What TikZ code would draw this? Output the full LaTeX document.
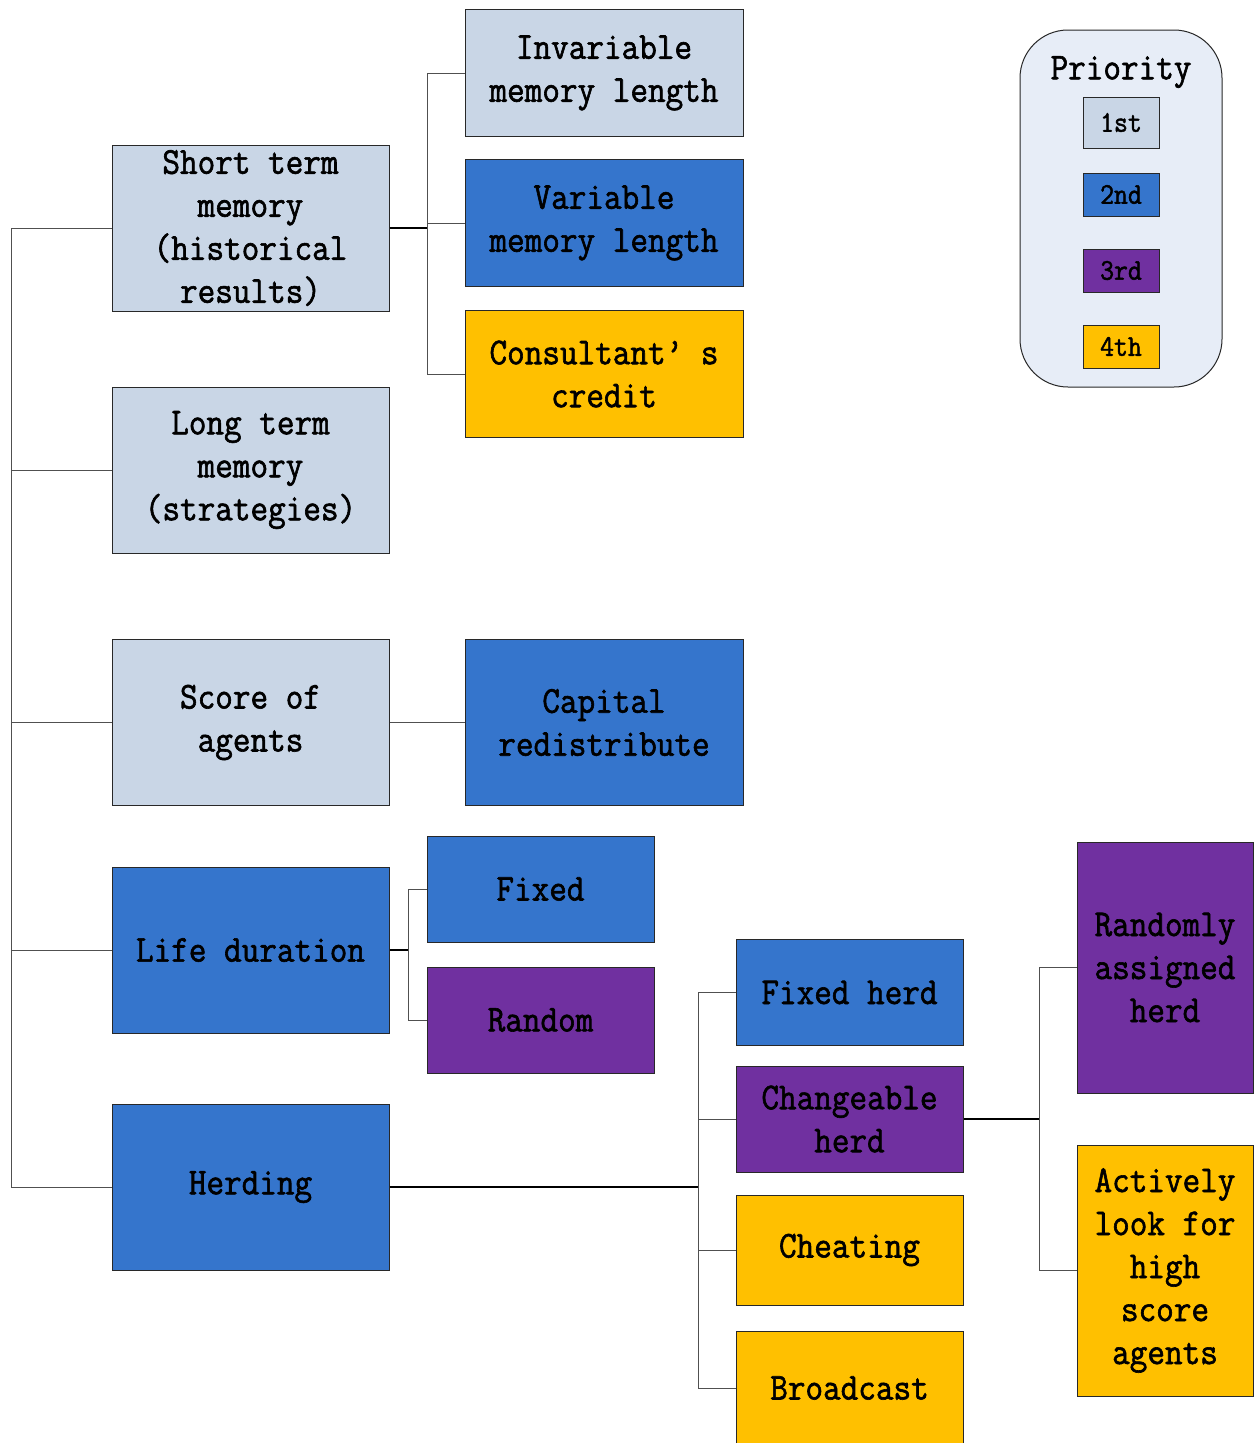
\documentclass[tikz,border=0pt]{standalone}
\usepackage{fontspec}
\setmainfont{Latin Modern Mono}[FakeStretch=0.9,FakeBold=1.6]
\definecolor{lgray}{RGB}{201,214,230}
\definecolor{mblue}{RGB}{53,117,204}
\definecolor{mpurple}{RGB}{112,48,160}
\definecolor{myellow}{RGB}{255,192,0}
\definecolor{legbg}{RGB}{231,237,247}
\definecolor{edge}{RGB}{40,40,40}
\definecolor{wire}{RGB}{80,80,80}
\tikzset{
  bx/.style={draw=edge,line width=1pt,align=center,inner sep=0pt,
    font=\fontsize{38}{43}\selectfont},
  wide/.style={bx,minimum width=277,minimum height=166},
  mid/.style={bx,minimum width=278,minimum height=127},
  small/.style={bx,minimum width=227,minimum height=106},
  tall/.style={bx,minimum width=176,minimum height=251},
  tag/.style={draw=edge,line width=0.8pt,inner sep=0pt,minimum width=76,
    font=\fontsize{30}{32}\selectfont},
  wirestyle/.style={draw=wire,line width=1pt},
  trunkwire/.style={draw=black,line width=1.4pt},
}
\begin{document}
\begin{tikzpicture}[x=1pt,y=-1pt]
\useasboundingbox (0,0) rectangle (1259,1443);
\begin{scope}
\clip (0,0) rectangle (1259,1443);
% first level
\node[wide,fill=lgray] (stm) at (250.5,228) {Short term\\memory\\(historical\\results)};
\node[wide,fill=lgray] (ltm) at (250.5,470) {Long term\\memory\\(strategies)};
\node[wide,fill=lgray] (score) at (250.5,722.5) {Score of\\agents};
\node[wide,fill=mblue] (life) at (250.5,950) {Life duration};
\node[wide,fill=mblue] (herd) at (250.5,1187) {Herding};
% memory options
\node[mid,fill=lgray] (inv) at (604,73) {Invariable\\memory length};
\node[mid,fill=mblue] (var) at (604,223) {Variable\\memory length};
\node[mid,fill=myellow] (cons) at (604,374) {Consultant’ s\\credit};
\node[wide,minimum width=278,fill=mblue] (cap) at (604,722.5) {Capital\\redistribute};
% life duration options
\node[small,fill=mblue] (fixed) at (540.5,889) {Fixed};
\node[small,fill=mpurple] (rand) at (540.5,1020) {Random};
% herding options
\node[small,fill=mblue] (fherd) at (849.5,992.5) {Fixed herd};
\node[small,fill=mpurple] (cherd) at (849.5,1119) {Changeable\\herd};
\node[small,minimum height=110,fill=myellow] (cheat) at (849.5,1250) {Cheating};
\node[small,minimum height=140,fill=myellow] (bcast) at (849.5,1401) {};
\node[font=\fontsize{38}{43}\selectfont] (bcastlabel) at (849.5,1388) {Broadcast};
% changeable herd options
\node[tall,fill=mpurple] (rah) at (1165,967.5) {Randomly\\assigned\\herd};
\node[tall,fill=myellow] (act) at (1165,1270.5) {Actively\\look for\\high\\score\\agents};
\end{scope}
% connectors: main trunk
\coordinate (tk) at (11,228);
\draw[wirestyle] (stm.west) -- (tk);
\draw[wirestyle] (ltm.west) -| (tk);
\draw[wirestyle] (score.west) -| (tk);
\draw[wirestyle] (life.west) -| (tk);
\draw[wirestyle] (herd.west) -| (tk);
% short term memory branch
\coordinate (j1) at (427,228);
\draw[trunkwire] (stm.east) -- (j1);
\draw[wirestyle] (inv.west) -| (j1);
\draw[wirestyle] (var.west) -| (j1);
\draw[wirestyle] (cons.west) -| (j1);
% score branch
\draw[wirestyle] (score.east) -- (cap.west);
% life duration branch
\coordinate (j2) at (408,950);
\draw[trunkwire] (life.east) -- (j2);
\draw[wirestyle] (fixed.west) -| (j2);
\draw[wirestyle] (rand.west) -| (j2);
% herding branch
\coordinate (j3) at (698,1187);
\draw[trunkwire] (herd.east) -- (j3);
\draw[wirestyle] (fherd.west) -| (j3);
\draw[wirestyle] (cherd.west) -| (j3);
\draw[wirestyle] (cheat.west) -| (j3);
\draw[wirestyle] (bcastlabel.west -| bcast.west) -| (j3);
% changeable herd branch
\coordinate (j4) at (1039,1119);
\draw[trunkwire] (cherd.east) -- (j4);
\draw[wirestyle] (rah.west) -| (j4);
\draw[wirestyle] (act.west) -| (j4);
% priority legend
\node[draw=edge,line width=1pt,rounded corners=48,fill=legbg,minimum width=202,minimum height=357] (leg) at (1121,208.5) {};
\node[font=\fontsize{38}{43}\selectfont] (legtitle) at (1121,72) {Priority};
\node[tag,fill=lgray,minimum height=51] (p1) at (1121,122.5) {1st};
\node[tag,fill=mblue,minimum height=43] (p2) at (1121,194.5) {2nd};
\node[tag,fill=mpurple,minimum height=43] (p3) at (1121,270.5) {3rd};
\node[tag,fill=myellow,minimum height=43] (p4) at (1121,346.5) {4th};
\end{tikzpicture}
\end{document}
